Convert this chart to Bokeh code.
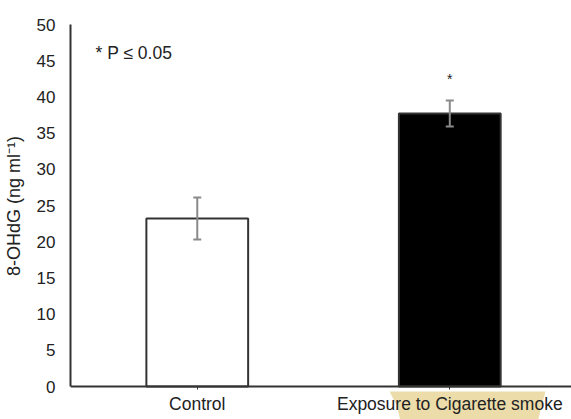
from bokeh.plotting import figure
from bokeh.models import ColumnDataSource, FixedTicker, Whisker, Label
from bokeh.embed import file_html
from bokeh.resources import INLINE

categories = ["Control", "Exposure to Cigarette smoke"]
values = [23.2, 37.7]
errors = [2.9, 1.8]
stars = ["", "*"]
y_ticks = [0, 5, 10, 15, 20, 25, 30, 35, 40, 45, 50]

xs = [i + 1 for i in range(len(categories))]
src = ColumnDataSource(dict(
    x=xs, top=values,
    upper=[v + e for v, e in zip(values, errors)],
    lower=[v - e for v, e in zip(values, errors)],
    fill=["white", "black"],
))

X0, X1 = 0.498, 2.482
p = figure(width=571, height=419, output_backend="svg", toolbar_location=None,
           x_range=(X0, X1), y_range=(-4.55, 50),
           min_border_left=69, min_border_top=24, min_border_bottom=0, min_border_right=0)
p.outline_line_color = None
p.grid.visible = False
p.background_fill_color = "white"
p.border_fill_color = "white"

# tan highlight blob behind the second category label (decoration)
p.patch(x=[1.755, 2.379, 2.372, 2.364, 2.350, 1.804, 1.790, 1.775, 1.762],
        y=[-0.69, -0.69, -1.6, -2.6, -4.6, -4.6, -2.6, -1.6, -0.69],
        fill_color="#ecdcaa", line_color=None, level="underlay")

p.vbar(x="x", top="top", width=0.403, bottom=0, source=src,
       fill_color="fill", line_color="#333333", line_width=2)

w = Whisker(base="x", upper="upper", lower="lower", source=src,
            line_color="#8a8a8a", line_width=2, level="overlay")
for h in (w.upper_head, w.lower_head):
    h.line_color = "#8a8a8a"
    h.size = 8
    h.line_width = 2
p.add_layout(w)

for x, u, s in zip(xs, src.data["upper"], stars):
    if s:
        p.add_layout(Label(x=x, y=u + 3.0, text=s, text_align="center",
                           text_baseline="middle",
                           text_font="Liberation Sans", text_font_size="14px",
                           text_color="#222222"))

p.add_layout(Label(x=0.597, y=46.0, text="* P ≤ 0.05",
                   text_baseline="middle",
                   text_font="Liberation Sans", text_font_size="17.5px", text_color="#222222"))

p.yaxis.ticker = FixedTicker(ticks=y_ticks)
p.yaxis.bounds = (0, 50)
# leading wide spaces lift the centred title onto the 0..50 span
p.yaxis.axis_label = "\u2003\u2002\u2008" + "8-OHdG (ng ml⁻¹)"
p.yaxis.axis_label_text_font = "Liberation Sans"
p.yaxis.axis_label_text_font_size = "18px"
p.yaxis.axis_label_text_font_style = "normal"
p.yaxis.axis_label_text_color = "#222222"
p.yaxis.axis_label_standoff = 10
p.yaxis.major_label_text_font = "Liberation Sans"
p.yaxis.major_label_text_font_size = "17px"
p.yaxis.major_label_text_color = "#222222"
p.yaxis.major_tick_line_color = None
p.yaxis.minor_tick_line_color = None
p.yaxis.major_label_standoff = 9
p.yaxis.axis_line_color = "#333333"
p.yaxis.axis_line_width = 2

p.xaxis.fixed_location = 0
p.xaxis.ticker = FixedTicker(ticks=xs)
p.xaxis.major_label_overrides = {x: c for x, c in zip(xs, categories)}
p.xaxis.major_label_text_font = "Liberation Sans"
p.xaxis.major_label_text_font_size = "17.5px"
p.xaxis.major_label_text_color = "#222222"
p.xaxis.major_tick_line_color = "#333333"
p.xaxis.major_tick_out = 3
p.xaxis.major_tick_in = 0
p.xaxis.minor_tick_line_color = None
p.xaxis.axis_line_color = "#333333"
p.xaxis.axis_line_width = 2
p.xaxis.major_label_standoff = 4

open("out.html", "w").write(file_html(p, INLINE))
